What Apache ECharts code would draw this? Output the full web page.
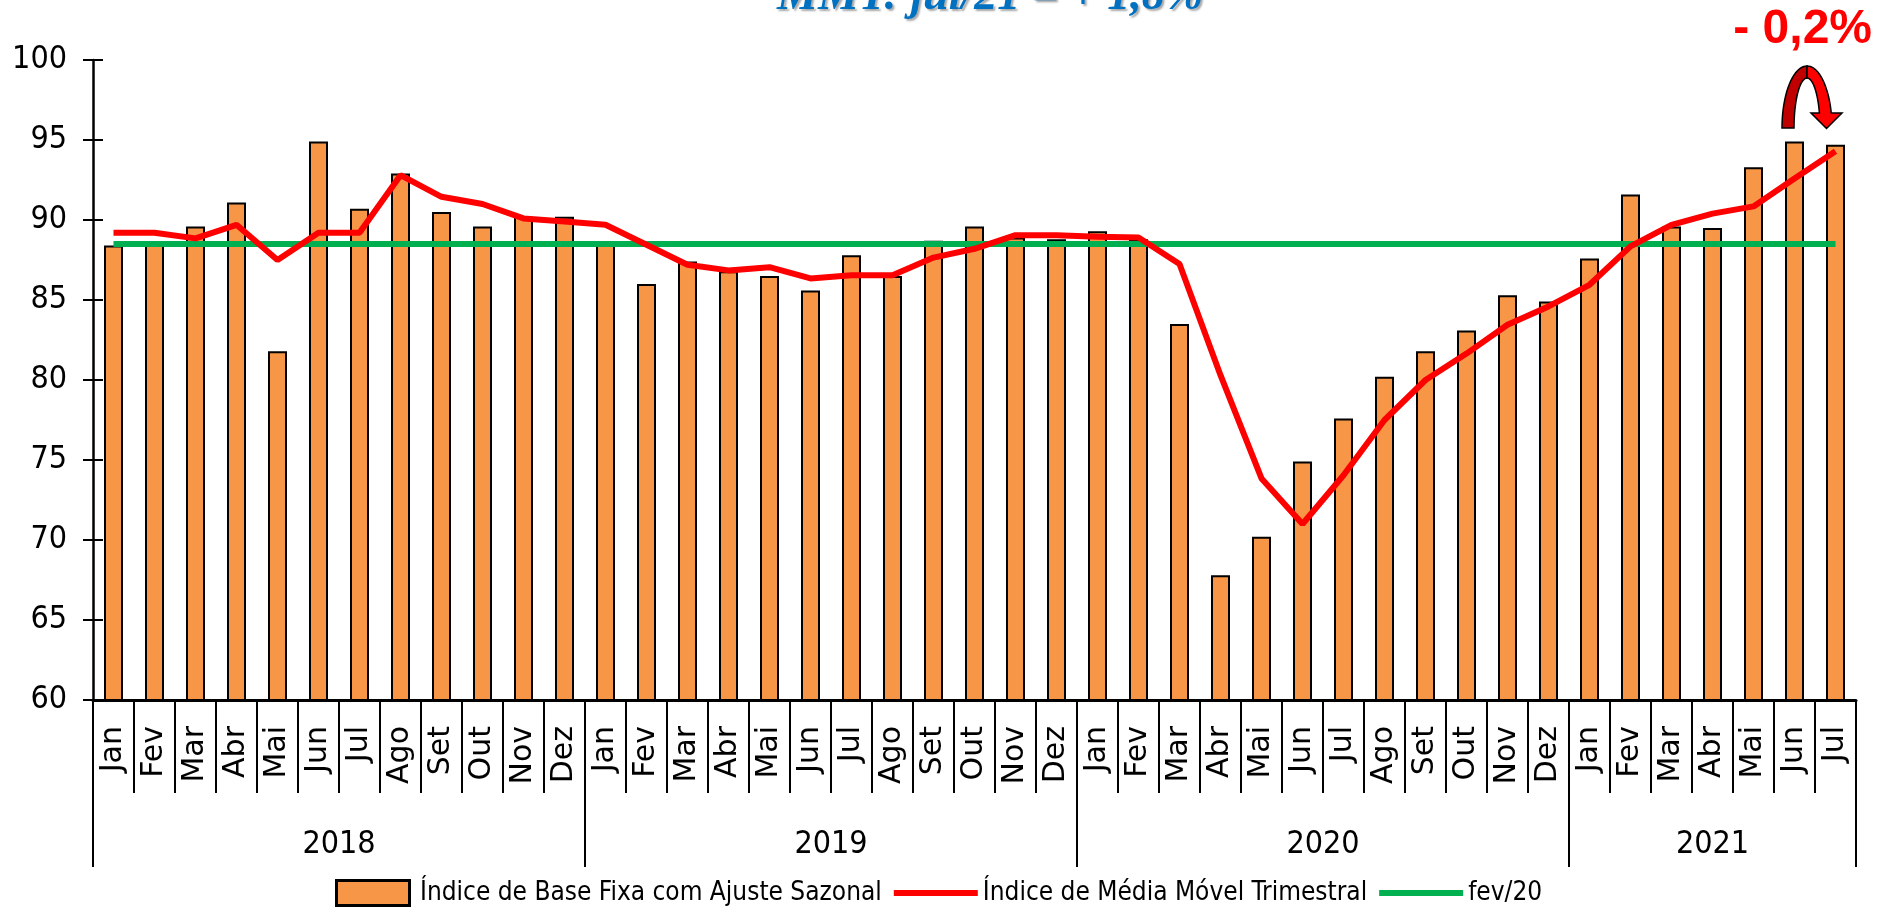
<!DOCTYPE html>
<html>
<head>
<meta charset="utf-8">
<script src="https://cdn.jsdelivr.net/npm/echarts@6/dist/echarts.min.js"></script>
<style>
    html, body { margin: 0; padding: 0; background: #fff; }
    #main { width: 1878px; height: 912px; }
</style>
</head>
<body>
<div id="main"></div>
<script>
var categories = [
    'Jan','Fev','Mar','Abr','Mai','Jun','Jul','Ago','Set','Out','Nov','Dez',
    'Jan','Fev','Mar','Abr','Mai','Jun','Jul','Ago','Set','Out','Nov','Dez',
    'Jan','Fev','Mar','Abr','Mai','Jun','Jul','Ago','Set','Out','Nov','Dez',
    'Jan','Fev','Mar','Abr','Mai','Jun','Jul'
];
var years = ['2018', '2019', '2020', '2021'];
var yearStart = [0, 12, 24, 36, 43];
var yearMid = [6, 18, 30, 39.5];

var baseFixa = [
    88.4, 88.5, 89.6, 91.1, 81.8, 94.9, 90.7, 92.9, 90.5, 89.6, 90.2, 90.2,
    88.6, 86.0, 87.4, 86.8, 86.5, 85.6, 87.8, 86.5, 88.7, 89.6, 88.9, 88.8,
    89.3, 88.8, 83.5, 67.8, 70.2, 74.9, 77.6, 80.2, 81.8, 83.1, 85.3, 84.9,
    87.6, 91.6, 89.6, 89.5, 93.3, 94.9, 94.7
];
var mediaMovel = [
    89.2, 89.2, 88.85, 89.7, 87.5, 89.2, 89.2, 92.8, 91.45, 91.0, 90.1, 89.9,
    89.7, 88.45, 87.2, 86.85, 87.05, 86.35, 86.55, 86.55, 87.65, 88.2, 89.05, 89.05,
    88.95, 88.9, 87.25, 80.3, 73.85, 71.0, 74.05, 77.5, 80.0, 81.65, 83.45, 84.6,
    85.95, 88.35, 89.7, 90.4, 90.85, 92.6, 94.3
];
var fev20 = [];
categories.forEach(function() { fev20.push(88.5); });

var narrow = "'Liberation Sans Narrow', 'DejaVu Sans Condensed', sans-serif";
var lineIcon = 'path://M0,0H84V6H0Z';
var boxIcon = 'path://M0,0H73V25H0Z';

// curved arrow over the last two bars
function arch(cx, cy, rx, ry, t0, t1, n) {
    var pts = [];
    for (var k = 0; k <= n; k++) {
        var t = t0 + (t1 - t0) * k / n;
        pts.push([cx + rx * Math.cos(t), cy - ry * Math.sin(t)]);
    }
    return pts;
}
var acx = 1807, acy = 128;
var leftBand = arch(acx, acy, 25, 62, Math.PI, Math.PI / 2, 20)
    .concat(arch(acx, acy, 13, 50, Math.PI / 2, Math.PI, 20));
var rightBand = arch(acx, acy, 25, 62, Math.PI / 2, 0.244, 20)
    .concat([[1842, 113], [1826.5, 128.5], [1811, 113]])
    .concat(arch(acx, acy, 13, 50, 0.305, Math.PI / 2, 20));

var myChart = echarts.init(document.getElementById('main'));

myChart.setOption({
    animation: false,
    grid: { left: 93, top: 60, width: 1763, height: 640 },
    legend: {
        left: 335,
        top: 879,
        padding: 0,
        itemWidth: 84,
        itemHeight: 25,
        itemGap: 12,
        textStyle: { fontFamily: narrow, fontSize: 26, color: '#000' },
        data: [
            { name: 'Índice de Base Fixa com Ajuste Sazonal', icon: boxIcon, itemStyle: { borderWidth: 3 } },
            { name: 'Índice de Média Móvel Trimestral', icon: lineIcon },
            { name: 'fev/20', icon: lineIcon }
        ]
    },
    xAxis: [{
        type: 'category',
        data: categories,
        boundaryGap: true,
        axisLine: { lineStyle: { color: '#000', width: 3 } },
        axisTick: { inside: true, length: 10, lineStyle: { color: '#000', width: 2 } },
        axisLabel: {
            interval: 0,
            rotate: 90,
            margin: 26,
            color: '#000',
            fontFamily: 'DejaVu Sans',
            fontSize: 30
        }
    }, {
        type: 'value',
        min: 0,
        max: 43,
        interval: 1,
        position: 'bottom',
        axisLine: { show: false },
        axisTick: { length: 93, lineStyle: { color: '#000', width: 2 } },
        axisLabel: { show: false },
        splitLine: { show: false }
    }, {
        type: 'value',
        min: 0,
        max: 43,
        position: 'bottom',
        axisLine: { show: false },
        axisTick: { length: 167, customValues: yearStart, lineStyle: { color: '#000', width: 2 } },
        axisLabel: {
            customValues: yearMid,
            margin: 129,
            color: '#000',
            fontFamily: narrow,
            fontSize: 32,
            formatter: function(v) { return years[yearMid.indexOf(v)]; }
        },
        splitLine: { show: false }
    }],
    yAxis: [{
        type: 'value',
        min: 60,
        max: 100,
        interval: 5,
        axisLine: { show: true, lineStyle: { color: '#000', width: 2.5 } },
        axisTick: { show: true, length: 10, lineStyle: { color: '#000', width: 2 } },
        axisLabel: { margin: 26, color: '#000', fontFamily: narrow, fontSize: 32 },
        splitLine: { show: false }
    }, {
        type: 'value',
        min: 60,
        max: 100,
        interval: 5,
        position: 'left',
        axisLine: { show: false },
        axisTick: { show: true, inside: true, length: 10, lineStyle: { color: '#000', width: 2 } },
        axisLabel: { show: false },
        splitLine: { show: false }
    }],
    series: [{
        name: 'Índice de Base Fixa com Ajuste Sazonal',
        type: 'bar',
        data: baseFixa,
        barWidth: 19,
        itemStyle: { color: '#F79646', borderColor: '#000', borderWidth: 2 }
    }, {
        name: 'fev/20',
        type: 'line',
        data: fev20,
        symbol: 'none',
        z: 3,
        lineStyle: { color: '#00B050', width: 6 },
        itemStyle: { color: '#00B050' }
    }, {
        name: 'Índice de Média Móvel Trimestral',
        type: 'line',
        data: mediaMovel,
        symbol: 'none',
        z: 4,
        lineStyle: { color: '#FF0000', width: 6 },
        itemStyle: { color: '#FF0000' }
    }],
    graphic: [{
        type: 'text',
        style: {
            x: 990,
            y: -3,
            text: 'MMT: jul/21 = + 1,8%',
            textAlign: 'center',
            textVerticalAlign: 'middle',
            fill: '#0070C0',
            font: 'italic bold 46px "Liberation Serif", serif',
            textShadowColor: 'rgba(0,0,0,0.35)',
            textShadowOffsetX: 2,
            textShadowOffsetY: 2,
            textShadowBlur: 2
        }
    }, {
        type: 'text',
        style: {
            x: 1872,
            y: 30,
            text: '- 0,2%',
            textAlign: 'right',
            textVerticalAlign: 'middle',
            fill: '#FF0000',
            font: 'bold 48px "Liberation Sans", Arial, sans-serif'
        }
    }, {
        type: 'polygon',
        shape: { points: leftBand },
        style: { fill: '#C00000', stroke: '#000', lineWidth: 1.5 }
    }, {
        type: 'polygon',
        shape: { points: rightBand },
        style: { fill: '#FF0000', stroke: '#000', lineWidth: 1.5 }
    }]
});
</script>
</body>
</html>
